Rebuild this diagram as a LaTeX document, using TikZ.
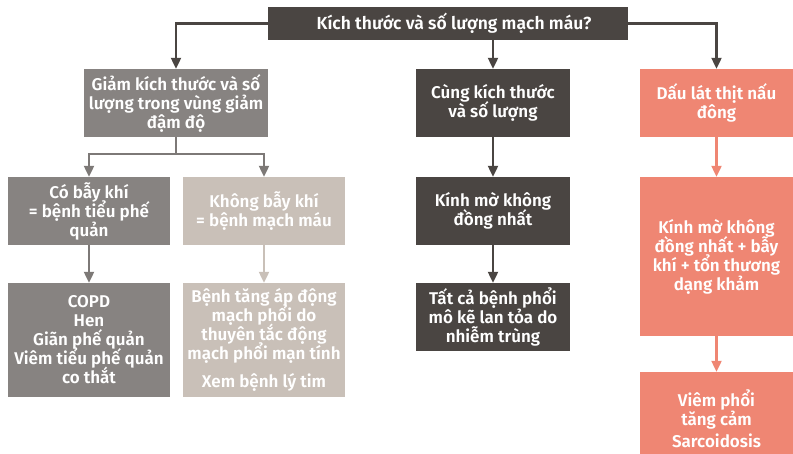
\documentclass[tikz,border=0pt]{standalone}
\usepackage{fontspec}
\setmainfont{Fira Sans}[BoldFont={Fira Sans SemiBold}]
\usetikzlibrary{arrows.meta}
\definecolor{cdark}{HTML}{4A4542}
\definecolor{cgray}{HTML}{878381}
\definecolor{cgrayln}{HTML}{7D7977}
\definecolor{clight}{HTML}{C9C0B8}
\definecolor{csalmon}{HTML}{EF8673}
\newcommand\mybxfont{\bfseries\fontsize{17}{19}\selectfont\setlength{\lineskiplimit}{-20pt}}
\newcommand\mytopfont{\bfseries\fontsize{17.5}{19}\selectfont}
\tikzset{
  box/.style={rectangle, inner sep=1pt, text=white, align=center,
    font=\mybxfont},
  arr/.style={line width=2.2pt, -{Triangle[length=11pt,width=10pt]}},
  ln/.style={line width=2.2pt},
}
\begin{document}
\begin{tikzpicture}[x=1pt,y=-1pt]
\useasboundingbox (0,0) rectangle (793,454);
\node[box, fill=cdark, minimum width=360pt, minimum height=33pt, font=\mytopfont] (top) at (448,23.5) {\hspace*{12pt}Kích thước và số lượng mạch máu?};
\node[box, fill=cgray, minimum width=184pt, minimum height=68pt] (A) at (176,103) {Giảm kích thước và số\\lượng trong vùng giảm\\đậm độ};
\node[box, fill=cgray, minimum width=162pt, minimum height=68pt] (B) at (89,211) {Có bẫy khí\\= bệnh tiểu phế\\quản};
\node[box, fill=clight, minimum width=162pt, minimum height=68pt] (C) at (264,211) {Không bẫy khí\\= bệnh mạch máu};
\node[box, fill=cgray, minimum width=162pt, minimum height=114pt] (D) at (89,340) {COPD\\Hen\\Giãn phế quản\\Viêm tiểu phế quản\\co thắt};
\node[box, fill=clight, minimum width=162pt, minimum height=114pt] (E) at (264,340) {Bệnh tăng áp động\\mạch phổi do\\thuyên tắc động\\mạch phổi mạn tính\\[9pt]Xem bệnh lý tim};
\node[box, fill=cdark, minimum width=154pt, minimum height=68pt] (F) at (493,103) {Cùng kích thước\\và số lượng};
\node[box, fill=cdark, minimum width=154pt, minimum height=68pt] (G) at (493,211) {Kính mờ không\\đồng nhất};
\node[box, fill=cdark, minimum width=154pt, minimum height=68pt] (H) at (493,317) {Tất cả bệnh phổi\\mô kẽ lan tỏa do\\nhiễm trùng};
\node[box, fill=csalmon, minimum width=153pt, minimum height=68pt] (I) at (716.5,103) {Dấu lát thịt nấu\\đông};
\node[box, fill=csalmon, minimum width=153pt, minimum height=159pt] (J) at (716.5,256.5) {Kính mờ không\\đồng nhất + bẫy\\khí + tổn thương\\dạng khảm};
\node[box, fill=csalmon, minimum width=153pt, minimum height=82pt] (K) at (716.5,413) {};
\node[box, anchor=center] (Kt) at (716.5,419) {Viêm phổi\\tăng cảm\\[3pt]Sarcoidosis};
% connectors
\draw[arr, cdark] (top.west) -| (A.north);
\draw[arr, cdark] (top.south -| F.north) -- (F.north);
\draw[arr, cdark] (top.east) -| (I.north);
\draw[ln, cgrayln] (A.south) -- ++(0,17) coordinate (split);
\draw[arr, cgrayln] (split) -| (B.north);
\draw[arr, cgrayln] (split) -| (C.north);
\draw[arr, cgrayln] (B.south) -- (D.north);
\draw[arr, clight] (C.south) -- (E.north);
\draw[arr, cdark] (F.south) -- (G.north);
\draw[arr, cdark] (G.south) -- (H.north);
\draw[arr, csalmon] (I.south) -- (J.north);
\draw[arr, csalmon] (J.south) -- (K.north);
\end{tikzpicture}
\end{document}
